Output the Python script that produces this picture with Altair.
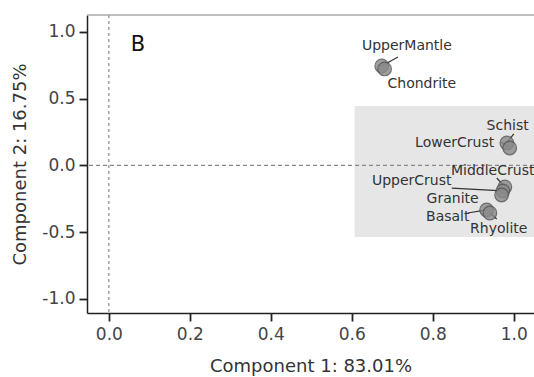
import altair as alt
import pandas as pd

# Points (component loadings)
names = ["UpperMantle", "Chondrite", "Schist", "LowerCrust", "MiddleCrust",
         "UpperCrust", "Granite", "Basalt", "Rhyolite"]
comp1 = [0.674, 0.681, 0.983, 0.990, 0.978, 0.973, 0.970, 0.933, 0.941]
comp2 = [0.745, 0.723, 0.169, 0.131, -0.161, -0.191, -0.221, -0.333, -0.356]

# label anchor positions and leader-line ends (data units)
label_x = [0.736, 0.773, 0.985, 0.854, 0.948, 0.748, 0.849, 0.837, 0.963]
label_y = [0.895, 0.610, 0.296, 0.169, -0.041, -0.116, -0.251, -0.386, -0.476]
lead_x = [0.714, 0.681, 1.000, 0.968, 0.958, 0.847, 0.970, 0.886, 0.958]
lead_y = [0.813, 0.723, 0.236, 0.176, -0.094, -0.169, -0.221, -0.356, -0.401]

# shaded cluster region
box_x = [0.607]
box_x2 = [1.10]
box_y = [0.446]
box_y2 = [-0.536]

x_ticks = [0.0, 0.2, 0.4, 0.6, 0.8, 1.0]
y_ticks = [-1.0, -0.5, 0.0, 0.5, 1.0]
x_domain = [-0.054, 1.050]
y_domain = [-1.105, 1.127]

df = pd.DataFrame({"name": names, "c1": comp1, "c2": comp2,
                   "lx": label_x, "ly": label_y, "ex": lead_x, "ey": lead_y})
box = pd.DataFrame({"x": box_x, "x2": box_x2, "y": box_y, "y2": box_y2})
zero = pd.DataFrame({"v": [0.0]})

FONT = "DejaVu Sans"
xs = alt.Scale(domain=x_domain, nice=False, zero=False)
ys = alt.Scale(domain=y_domain, nice=False, zero=False)

lab_expr = "replace(format(datum.value, '.1f'), '\u2212', '-')"
x_axis = alt.Axis(values=x_ticks, labelExpr=lab_expr, title="Component 1: 83.01%",
                  grid=False, domainColor="#222", domainWidth=1.5, tickColor="#222",
                  tickWidth=1.8, tickSize=8, labelPadding=5, labelFontSize=17,
                  labelColor="#444", labelFont=FONT, titleFont=FONT, titleFontSize=18,
                  titleFontWeight="normal", titleColor="#333", titlePadding=15)
y_axis = alt.Axis(values=y_ticks, labelExpr=lab_expr, title="Component 2: 16.75%",
                  grid=False, domainColor="#222", domainWidth=1.5, tickColor="#222",
                  tickWidth=1.8, tickSize=8, labelPadding=4, labelFontSize=17,
                  labelColor="#444", labelFont=FONT, titleFont=FONT, titleFontSize=18,
                  titleFontWeight="normal", titleColor="#333", titlePadding=12)

rect = alt.Chart(box).mark_rect(color="#e6e6e6", clip=True).encode(
    x=alt.X("x:Q", scale=xs, axis=x_axis), x2="x2:Q",
    y=alt.Y("y:Q", scale=ys, axis=y_axis), y2="y2:Q")

vline = alt.Chart(zero).mark_rule(color="#888", strokeDash=[3, 3], strokeWidth=1.2).encode(
    x=alt.X("v:Q", scale=xs))
hline = alt.Chart(zero).mark_rule(color="#888", strokeDash=[4, 3], strokeWidth=1.2).encode(
    y=alt.Y("v:Q", scale=ys))

top = alt.Chart(zero).mark_rule(color="#aaa", strokeWidth=1.5).encode(
    y=alt.value(0), x=alt.value(0), x2=alt.value(447))

leaders = alt.Chart(df).mark_rule(color="#333", strokeWidth=1.2).encode(
    x=alt.X("c1:Q", scale=xs), y=alt.Y("c2:Q", scale=ys), x2="ex:Q", y2="ey:Q")

pts = alt.Chart(df).mark_circle(size=185, color="#8a8a8a", opacity=0.8,
                                stroke="#505050", strokeWidth=1.2).encode(
    x=alt.X("c1:Q", scale=xs), y=alt.Y("c2:Q", scale=ys))

labels = alt.Chart(df).mark_text(font=FONT, fontSize=14, color="#333",
                                 align="center", baseline="middle").encode(
    x=alt.X("lx:Q", scale=xs), y=alt.Y("ly:Q", scale=ys), text="name:N")

letter = alt.Chart(zero).mark_text(text="B", font=FONT, fontSize=21, color="#111",
                                   align="center", baseline="middle").encode(
    x=alt.value(51), y=alt.value(30))

chart = alt.layer(rect, vline, hline, top, leaders, pts, labels, letter).properties(
    width=447, height=298, autosize="none",
    padding={"left": 87, "top": 15, "right": 0, "bottom": 64},
).configure_view(strokeWidth=0)

chart.save("out.html", embed_options={"renderer": "svg", "actions": False})
